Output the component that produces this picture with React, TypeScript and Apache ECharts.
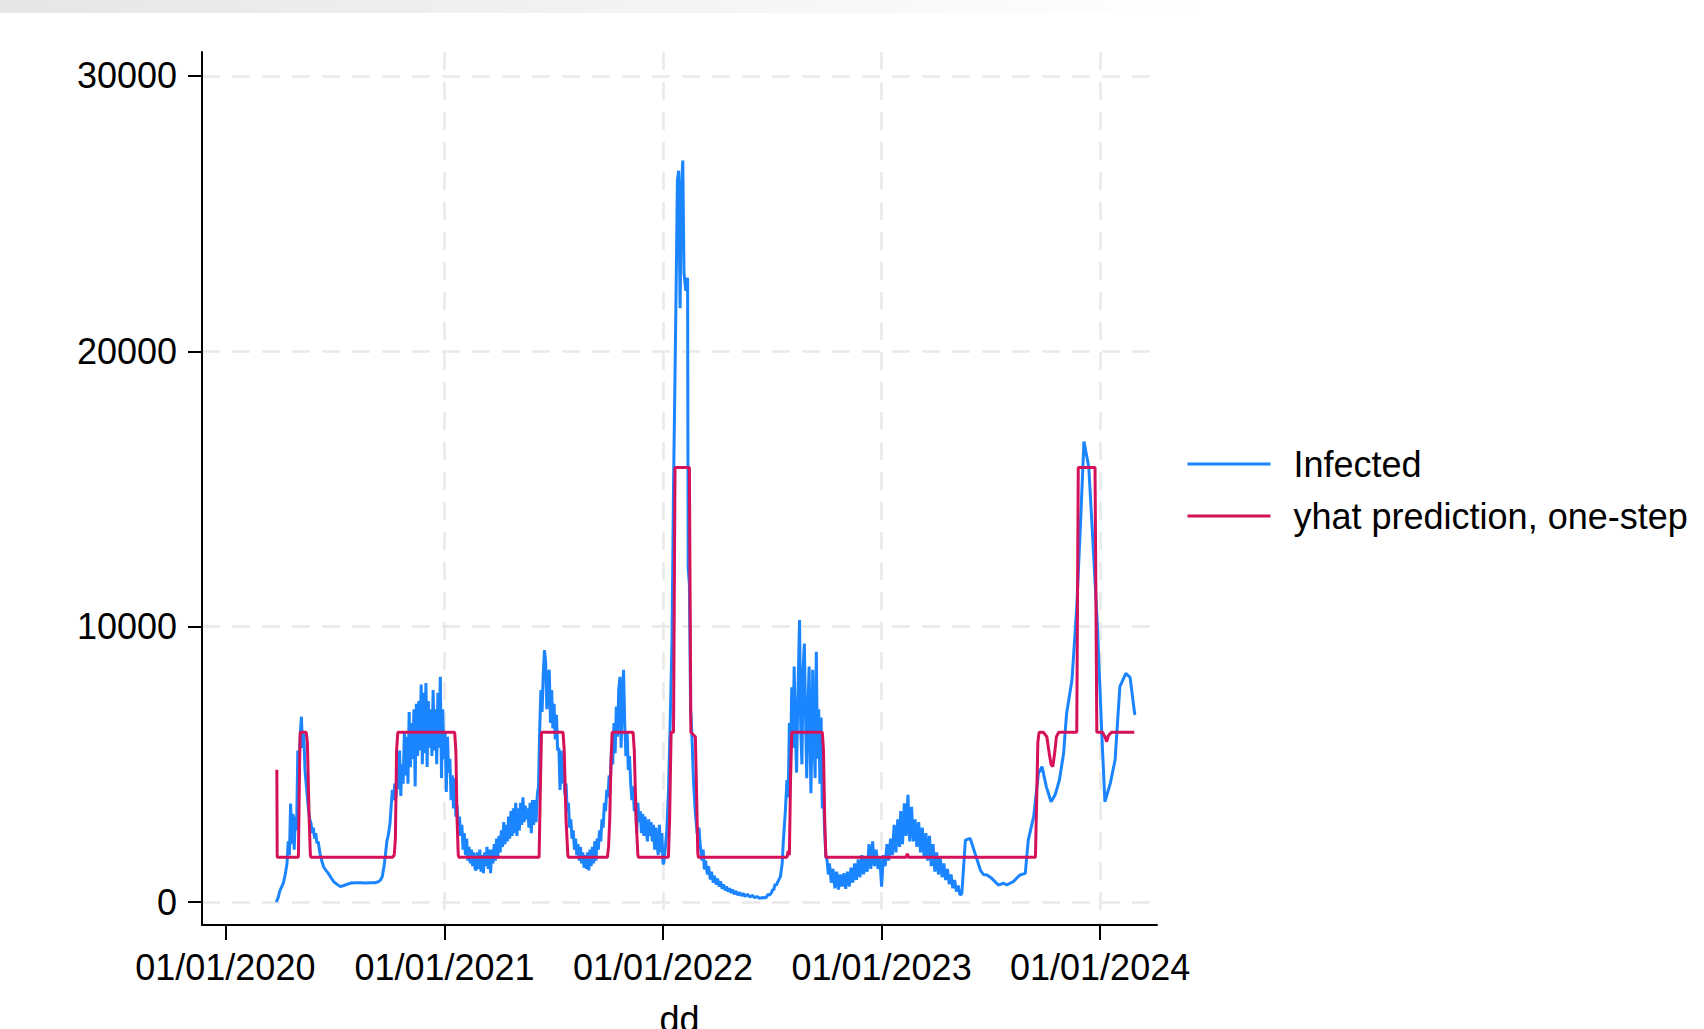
import React, { useEffect, useRef } from "react";
import * as echarts from "echarts";

const DAY = 86400000;
const BASE = Date.UTC(2020, 0, 1);
const FONT = "'Liberation Sans', Arial, Helvetica, sans-serif";

// tick dates (Jan 1st of each year)
const xTickYears = [2020, 2021, 2022, 2023, 2024];
const xGridYears = [2021, 2022, 2023, 2024];
const yTicks = [0, 10000, 20000, 30000];

// [days since 01/01/2020, value]
const infected2020Spring = [
  [85, 0], [88, 150], [91, 400], [94, 550], [97, 700], [100, 1000], [103, 1400], [105, 2200], [107, 1700], [109, 3580],
  [111, 2100], [113, 3200], [115, 1900], [117, 3100], [119, 2600], [121, 5500], [123, 4900], [125, 6000], [127, 6730],
  [129, 5600], [131, 6100], [133, 4800], [135, 4300], [137, 3800], [139, 3300], [141, 3000], [143, 2860], [145, 2500],
  [147, 2700], [149, 2300], [151, 2500], [153, 2130], [155, 2200], [158, 1770], [161, 1500], [164, 1280], [168, 1150],
  [172, 1040], [176, 900], [181, 740], [186, 650], [192, 560], [198, 600], [204, 650], [210, 690], [218, 700],
  [226, 700], [234, 690], [242, 700], [250, 700], [256, 740], [259, 800], [262, 920], [265, 1300], [267, 1650],
  [270, 2250], [272, 2400], [275, 2860], [277, 3500], [279, 4070], [281, 3700], [283, 4300], [285, 3800], [287, 4900],
];
const infected2020Fall = [
  [289, 4100], [291, 5500], [293, 3850], [295, 5000], [297, 4300], [299, 6200], [301, 4600], [303, 6000], [305, 4300],
  [307, 6900], [309, 4900], [311, 6500], [313, 5200], [315, 7000], [317, 4200], [319, 7200], [321, 5300], [323, 7300],
  [325, 5500], [327, 7900], [329, 5000], [331, 7600], [333, 5400], [335, 7950], [337, 4900], [339, 7300], [341, 5600],
  [343, 7000], [345, 5300], [347, 7700], [349, 5500], [351, 7000], [353, 5000], [355, 7600], [357, 5600], [359, 8180],
  [361, 4500], [363, 7000], [365, 5200], [367, 6200], [369, 4000], [371, 6000], [373, 4700], [375, 5200], [377, 3700],
  [379, 4600], [381, 3400], [383, 4500], [385, 3100], [387, 3500], [389, 2700], [391, 3100], [393, 2400], [395, 2800],
  [397, 1900], [399, 2500],
];
const infected2021Spring = [
  [401, 1700], [403, 2300], [405, 1500], [407, 2000], [409, 1400], [411, 1900], [413, 1300], [415, 1800], [417, 1200],
  [419, 1160], [421, 1800], [423, 1200], [425, 1900], [427, 1100], [429, 1700], [431, 1050], [433, 1800], [435, 1300],
  [437, 2000], [439, 1200], [441, 1900], [443, 1050], [445, 1900], [447, 1400], [449, 2100], [451, 1500], [453, 2300],
  [455, 1600], [457, 2400], [459, 1800], [461, 2600], [463, 2000], [465, 2900], [467, 2100], [469, 2800], [471, 2200],
  [473, 3100], [475, 2300], [477, 3300], [479, 2400], [481, 3400], [483, 2500], [485, 3600], [487, 2400], [489, 3400],
  [491, 2600], [493, 3600], [495, 2800], [497, 3800], [499, 2900], [501, 3500], [503, 3000], [505, 3400], [507, 2700],
  [509, 3600], [511, 2500], [513, 3700], [515, 2800], [517, 3700], [519, 2900], [521, 3900], [523, 4200],
];
const infected2021Summer = [
  [525, 6250], [527, 7700], [529, 6900], [531, 8300], [533, 9150], [535, 8700], [537, 7000], [539, 8200], [541, 8430],
  [543, 6500], [545, 7700], [547, 6300], [549, 7200], [551, 5900], [553, 6800], [555, 5500], [557, 5600], [559, 4070],
  [561, 5500], [563, 4300], [565, 5000], [567, 3900], [569, 4300], [571, 3300], [573, 3600], [575, 2700], [577, 3000],
  [579, 2300], [581, 2600], [583, 1900], [585, 2300], [587, 1700], [589, 2100], [591, 1500], [593, 2000], [595, 1400],
  [597, 1800], [599, 1250], [601, 1700], [603, 1200], [605, 1800], [607, 1150], [609, 1900], [611, 1300], [613, 2000],
  [615, 1400], [617, 2200], [619, 1500], [621, 2300], [623, 1900], [625, 2600], [627, 2200], [629, 3000], [631, 2700],
  [633, 3600], [635, 3300], [637, 4070],
];
const infected2021Fall = [
  [639, 3800], [641, 4600], [643, 4300], [645, 5600], [647, 5000], [649, 6500], [651, 5400], [653, 7100], [655, 6000],
  [657, 7700], [659, 8180], [661, 5600], [663, 7400], [665, 8430], [667, 6500], [669, 5300], [671, 6200], [673, 4800],
  [675, 5300], [677, 4300], [679, 3700], [681, 4200], [683, 3300], [685, 3900], [687, 2500], [689, 3600], [691, 2900],
  [693, 3300], [695, 2500], [697, 3200], [699, 2400], [701, 3100], [703, 2600], [705, 2200], [707, 3000], [709, 2400],
  [711, 2900], [713, 2200], [715, 2800], [717, 1900], [719, 2700], [721, 2100], [723, 1700], [725, 2800], [727, 1800],
  [729, 2500], [731, 1400], [732, 1380],
];
const infected2022Omicron = [
  [735, 2000], [737, 2480], [740, 3960], [743, 6560], [746, 9520], [748.5, 15070], [751, 19150], [753, 22500],
  [755, 26190], [757, 26560], [759.5, 21560], [761.5, 25830], [764, 26930], [766, 22850], [769, 22200], [772, 22670],
  [773, 12110], [775, 11550], [777, 7000], [779, 6190], [782, 4330], [785, 3220], [788, 2480], [791, 2700], [793, 2100],
  [796, 1500], [798, 1900], [800, 1180], [802, 1500], [805, 1000], [807, 1300], [810, 813], [812, 1100], [815, 700],
  [817, 950], [820, 628], [822, 850], [825, 560], [827, 750], [830, 480], [832, 640], [835, 420], [837, 560],
  [840, 370], [842, 500], [845, 330], [847, 450], [850, 280], [853, 400], [856, 250], [859, 350], [862, 220],
  [865, 320], [868, 200], [872, 280], [876, 180], [880, 240], [884, 160], [888, 200], [892, 140], [898, 160],
  [903, 150], [906, 280], [909, 250], [912, 330], [914, 450], [916, 440], [918, 650], [920, 600], [923, 750], [927, 920],
];
const infected2022Summer = [
  [930, 1400], [932, 2250], [935, 3200], [938, 4430], [940, 3800], [942, 6500], [944, 5200], [946, 7800], [948, 5600],
  [950, 8550], [952, 6200], [954, 4700], [956, 7200], [959, 10240], [961, 6300], [963, 5000], [965, 8500], [967, 9390],
  [969, 6800], [971, 4500], [973, 7000], [975, 8550], [977, 5300], [978, 3950], [980, 6500], [981, 8430], [983, 6100],
  [985, 4500], [987, 9090], [989, 5200], [991, 7000], [993, 4300], [995, 6700], [997, 3400], [999, 3900], [1001, 2500],
  [1003, 1645],
];
const infected2022Winter = [
  [1005, 1525], [1007, 1000], [1009, 1400], [1012, 700], [1015, 1200], [1018, 500], [1021, 1100], [1024, 450],
  [1027, 1000], [1030, 560], [1033, 1050], [1036, 480], [1039, 1100], [1042, 560], [1045, 1250], [1048, 700],
  [1051, 1400], [1054, 800], [1057, 1550], [1060, 900], [1063, 1700], [1066, 1000], [1069, 1650], [1072, 1100],
  [1075, 2100], [1078, 1200], [1081, 2200], [1084, 1300], [1087, 1900], [1090, 1200], [1093, 1600], [1096, 556],
  [1099, 1700], [1102, 1300], [1105, 2100], [1108, 1500], [1111, 2300], [1114, 1700], [1117, 2800], [1120, 1800],
  [1123, 3000], [1126, 2000], [1128, 3300], [1131, 2100], [1134, 3580], [1137, 2400], [1140, 3890], [1143, 2200],
  [1146, 3460], [1149, 2200], [1152, 3000], [1155, 2000], [1158, 2900], [1161, 1800], [1164, 2700], [1167, 1600],
  [1170, 2500], [1173, 1500], [1176, 2400], [1179, 1300], [1182, 2100], [1185, 1100], [1188, 1800], [1191, 1000],
  [1194, 1600], [1197, 900], [1200, 1400], [1203, 800], [1206, 1200], [1209, 650], [1212, 1000], [1215, 500],
  [1218, 800], [1221, 380], [1224, 600], [1227, 254], [1230, 300],
];
const infected2023Weekly = [
  [1236, 2250], [1244, 2310], [1252, 1770], [1261, 1160], [1266, 1000], [1272, 980], [1280, 860], [1291, 617],
  [1300, 680], [1305, 617], [1316, 740], [1327, 980], [1336, 1040], [1341, 2250], [1350, 3100], [1358, 4670],
  [1364, 4915], [1371, 4200], [1379, 3640], [1386, 3900], [1393, 4430], [1400, 5400], [1405, 6850], [1414, 8060],
  [1422, 10730], [1428, 13630], [1434, 16720], [1442, 15810], [1447, 13870], [1456, 10240], [1464, 6000],
  [1469, 3640], [1478, 4310], [1486, 5160], [1494, 7820], [1504, 8300], [1511, 8160], [1519, 6790],
];

const predicted = [
  [86, 4800], [86.6, 1623], [122, 1623], [124, 5000], [125, 6163], [135, 6163], [137, 5800], [140, 3000], [142, 1700],
  [143, 1623], [279, 1623], [282, 1700], [284, 2300], [286, 5500], [288, 6163], [383, 6163], [385, 5500], [387, 3000],
  [389, 1700], [390, 1623], [524, 1623], [526, 4000], [528, 6163], [564, 6163], [566, 5500], [569, 3000], [572, 1700],
  [573, 1623], [638, 1623], [640, 2000], [642, 3000], [644, 5000], [646, 6163], [681, 6163], [683, 5500], [686, 3000],
  [689, 1700], [690, 1623], [740, 1623], [742, 3000], [744.5, 6163], [748.5, 6163], [751, 15778], [775, 15778],
  [777.5, 6163], [785, 6000], [787, 4000], [789, 1800], [790, 1623], [938, 1623], [940, 1850], [942, 1700],
  [944, 4500], [946, 6163], [997, 6163], [999, 5500], [1001, 3000], [1003, 1623], [1137, 1623], [1139, 1750],
  [1141, 1623], [1353, 1623], [1357, 5800], [1359, 6163], [1366, 6163], [1372, 6000], [1376, 5400], [1379, 5000],
  [1382, 4915], [1385, 5400], [1388, 6000], [1392, 6163], [1422, 6163], [1424.5, 15778], [1452.5, 15778],
  [1455.5, 6163], [1465, 6163], [1469, 6000], [1472, 5823], [1475, 6050], [1480, 6163], [1518, 6163],
];

const toPoints = (arr: number[][]) => arr.map(([d, v]) => [BASE + d * DAY, v]);
const yearStart = (y: number) => Date.UTC(y, 0, 1);

const infectedAll = [
  ...infected2020Spring, ...infected2020Fall, ...infected2021Spring, ...infected2021Summer, ...infected2021Fall,
  ...infected2022Omicron, ...infected2022Summer, ...infected2022Winter, ...infected2023Weekly,
];

const fmtDate = (v: number) => {
  const d = new Date(v);
  const p = (n: number) => String(n).padStart(2, "0");
  return `${p(d.getUTCDate())}/${p(d.getUTCMonth() + 1)}/${d.getUTCFullYear()}`;
};

export default function App() {
  const ref = useRef<HTMLDivElement>(null);
  useEffect(() => {
    if (!ref.current) return;
    const chart = echarts.init(ref.current, undefined, { renderer: "svg" });
    const xTicks = xTickYears.map(yearStart);
    const xGrid = xGridYears.map(yearStart);
    const xMin = BASE - 39 * DAY;
    const xMax = BASE + 1556 * DAY;
    const axisColor = "#000";
    const gridLine = { show: true, lineStyle: { color: "#e9e9e9", width: 2.5, type: [18, 12] as any } };
    chart.setOption({
      animation: false,
      backgroundColor: "#ffffff",
      textStyle: { fontFamily: FONT },
      graphic: [
        {
          type: "rect",
          left: 0,
          top: 0,
          z: -10,
          silent: true,
          shape: { width: 1200, height: 13 },
          style: {
            fill: new echarts.graphic.LinearGradient(0, 0, 1, 0, [
              { offset: 0, color: "#e6e6e6" },
              { offset: 1, color: "#ffffff" },
            ]),
          },
        },
      ],
      grid: { left: 202, top: 52, width: 955, height: 873, containLabel: false, outerBoundsMode: "none" },
      legend: {
        orient: "vertical",
        left: 1181,
        top: 441,
        itemWidth: 83,
        itemHeight: 36,
        itemGap: 16,
        itemStyle: { opacity: 0 },
        lineStyle: { width: 3 },
        textStyle: { fontSize: 36, color: "#000", fontFamily: FONT, padding: [0, 0, 0, 18] },
        data: ["Infected", "yhat prediction, one-step"],
      },
      xAxis: [
        {
          type: "value",
          min: xMin,
          max: xMax,
          position: "bottom",
          axisLine: { show: true, onZero: false, lineStyle: { color: axisColor, width: 2 } },
          axisTick: { show: true, length: 15, lineStyle: { color: axisColor, width: 2 }, customValues: xTicks },
          axisLabel: {
            customValues: xTicks,
            formatter: (v: number) => fmtDate(v),
            fontSize: 36,
            color: "#000",
            fontFamily: FONT,
            margin: 24,
          },
          splitLine: { show: false },
          name: "dd",
          nameLocation: "middle",
          nameGap: 76,
          nameTextStyle: { fontSize: 36, color: "#000", fontFamily: FONT },
        },
        {
          type: "value",
          min: xMin,
          max: xMax,
          position: "bottom",
          axisLine: { show: false },
          axisTick: { show: false, customValues: xGrid },
          axisLabel: { show: false, customValues: xGrid },
          splitLine: gridLine,
        },
      ],
      yAxis: {
        type: "value",
        min: -835,
        max: 30870,
        axisLine: { show: true, lineStyle: { color: axisColor, width: 2 } },
        axisTick: { show: true, length: 14, lineStyle: { color: axisColor, width: 2 }, customValues: yTicks },
        axisLabel: {
          customValues: yTicks,
          formatter: (v: number) => String(v),
          fontSize: 36,
          color: "#000",
          fontFamily: FONT,
          margin: 25,
        },
        splitLine: gridLine,
      },
      series: [
        {
          name: "Infected",
          type: "line",
          xAxisIndex: 0,
          data: toPoints(infectedAll),
          symbol: "none",
          showSymbol: false,
          color: "#1A85FF",
          lineStyle: { color: "#1A85FF", width: 3 },
          z: 2,
        },
        {
          name: "yhat prediction, one-step",
          type: "line",
          xAxisIndex: 0,
          data: toPoints(predicted),
          symbol: "none",
          showSymbol: false,
          color: "#D41159",
          lineStyle: { color: "#D41159", width: 3 },
          z: 3,
        },
      ],
    });
    return () => chart.dispose();
  }, []);
  return (
    <div
      ref={ref}
      style={{ position: "absolute", left: 0, top: 0, width: 1704, height: 1029, background: "#fff" }}
    />
  );
}
